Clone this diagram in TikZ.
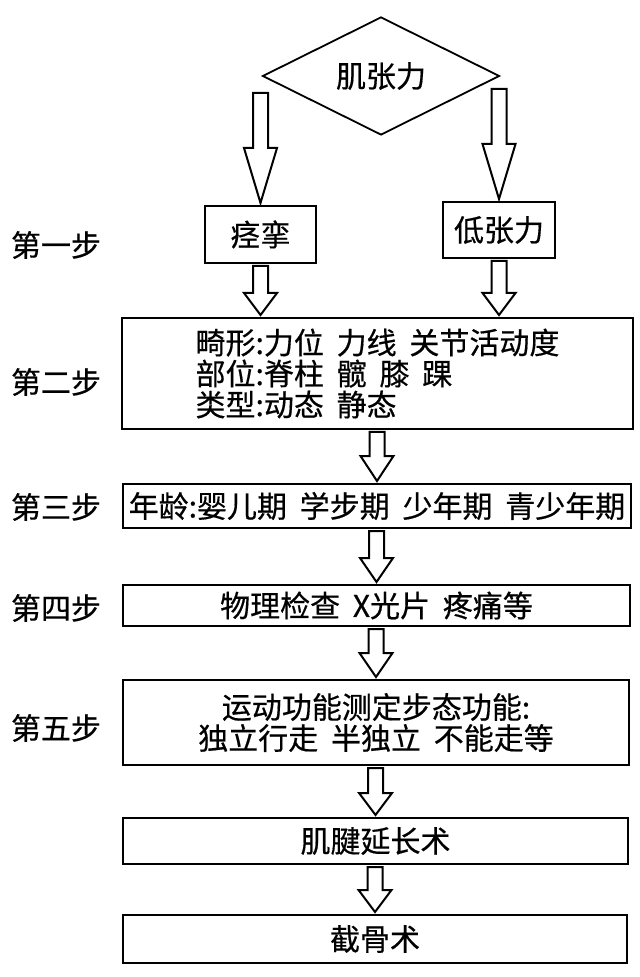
\documentclass[tikz,border=0pt]{standalone}
\usepackage{fontspec}
\setmainfont[WordSpace=1.9, FakeBold=0.5]{Noto Sans CJK SC}
\usepackage{tikz}
\usetikzlibrary{shapes.geometric,calc}

\newcommand{\bodyfont}{\fontsize{15pt}{15.5pt}\selectfont}

\tikzset{
  flowbox/.style={draw, line width=1pt, inner sep=0pt, align=center, font=\bodyfont},
  decision/.style={draw, diamond, aspect=2, line width=0.9pt, inner sep=0pt, font=\bodyfont},
  steplabel/.style={font=\bodyfont},
  hollow/.style={draw, line width=1pt, fill=white, line join=miter}
}

% hollow block arrow: [head length] {start} {tip}, drawn at the x of the tip
\newcommand{\flowarrow}[3][11pt]{%
  \path[hollow] let \p1=#2, \p2=#3 in
    (\x2-3.75pt,\y1-1pt) -- (\x2-3.75pt,\y2+#1+1pt) -- (\x2-8.25pt,\y2+#1+1pt)
    -- (\x2,\y2+1pt) -- (\x2+8.25pt,\y2+#1+1pt) -- (\x2+3.75pt,\y2+#1+1pt)
    -- (\x2+3.75pt,\y1-1pt) -- cycle;
}

\begin{document}
\begin{tikzpicture}[x=0.5pt, y=-0.5pt]
    \useasboundingbox (0,0) rectangle (640,977);

    % Decision
    \node[decision, minimum width=118.5pt, minimum height=59pt] (dia) at (381,76) {肌张力};

    % Two branches
    \node[flowbox, minimum width=55.5pt, minimum height=28.5pt] (spas) at (260.5,234.5) {痉挛};
    \node[flowbox, minimum width=56pt, minimum height=28pt] (hypo) at (499,230) {低张力};

    % Main column
    \node[flowbox, align=left, minimum width=255.5pt, minimum height=55.5pt] (deform) at (377.5,373.5)
        {畸形:力位 力线 关节活动度\\部位:脊柱 髋 膝 踝\\类型:动态 静态};
    \node[flowbox, minimum width=254pt, minimum height=22pt] (age) at (377,506)
        {年龄:婴儿期 学步期 少年期 青少年期};
    \node[flowbox, minimum width=253.5pt, minimum height=20.5pt] (exam) at (376.5,605.5)
        {物理检查 X光片 疼痛等};
    \node[flowbox, minimum width=253pt, minimum height=42.5pt] (motor) at (376,722.5)
        {运动功能测定步态功能:\\独立行走 半独立 不能走等};
    \node[flowbox, minimum width=252.5pt, minimum height=23pt] (tendon) at (375.5,841) {肌腱延长术};
    \node[flowbox, minimum width=252pt, minimum height=24pt] (osteo) at (375,939) {截骨术};

    % Step labels
    \node[steplabel] (st1) at (56,245) {第一步};
    \node[steplabel] (st2) at (56,382) {第二步};
    \node[steplabel] (st3) at (56,507) {第三步};
    \node[steplabel] (st4) at (56,608) {第四步};
    \node[steplabel] (st5) at (56,728) {第五步};

    % Arrows
    \flowarrow[27.5pt]{([yshift=-7.5pt]dia.west)}{(spas.north)}
    \flowarrow[27.5pt]{([yshift=-5.5pt]dia.east)}{(hypo.north)}
    \flowarrow{(spas.south)}{(spas.south |- deform.north)}
    \flowarrow{(hypo.south)}{(hypo.south |- deform.north)}
    \flowarrow[12.5pt]{(deform.south)}{(age.north)}
    \flowarrow[12pt]{(age.south)}{(exam.north)}
    \flowarrow[12pt]{(exam.south)}{(motor.north)}
    \flowarrow[11pt]{(motor.south)}{(tendon.north)}
    \flowarrow[11pt]{(tendon.south)}{(osteo.north)}
\end{tikzpicture}
\end{document}
